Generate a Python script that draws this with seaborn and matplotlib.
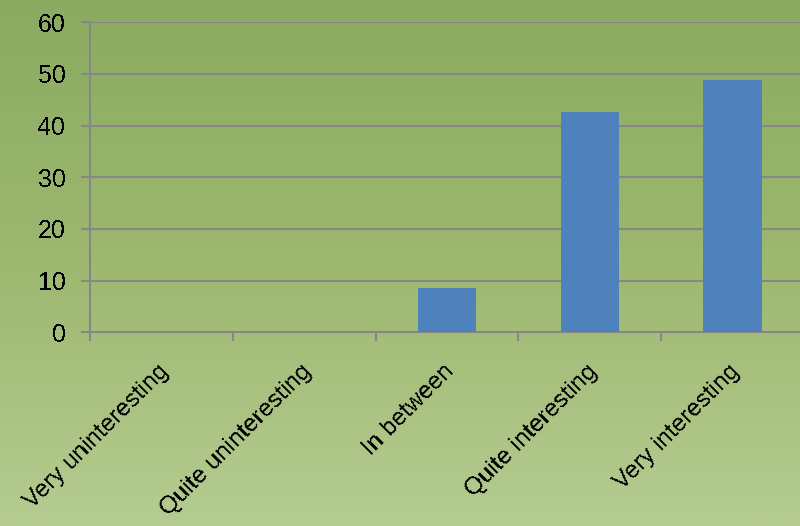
import numpy as np
import pandas as pd
import matplotlib
matplotlib.use("Agg")
import matplotlib.pyplot as plt
import matplotlib.transforms as mtransforms
from matplotlib.colors import LinearSegmentedColormap
import seaborn as sns

categories = ["Very uninteresting", "Quite uninteresting", "In between",
              "Quite interesting", "Very interesting"]
values = [0, 0, 8.5, 42.6, 48.9]
y_ticks = [0, 10, 20, 30, 40, 50, 60]

sns.set_theme(style="white")
plt.rcParams["font.family"] = ["Liberation Sans", "DejaVu Sans"]
plt.rcParams["text.antialiased"] = False

fig = plt.figure(figsize=(8.0, 5.26), dpi=100)

# green vertical gradient behind everything
bg = fig.add_axes([0, 0, 1, 1], zorder=0)
grad = np.linspace(0, 1, 256).reshape(-1, 1)
cmap = LinearSegmentedColormap.from_list("bg", ["#8aab61", "#9db870", "#b5cc91"])
bg.imshow(grad, aspect="auto", cmap=cmap, extent=[0, 1, 0, 1], origin="upper")
bg.axis("off")

ax = fig.add_axes([0.1125, 0.368, 0.8925, 0.59], zorder=1)
ax.patch.set_alpha(0)

df = pd.DataFrame({"category": categories, "value": values})
sns.barplot(data=df, x="category", y="value", color="#4f81bd", saturation=1,
            width=0.41, ax=ax, zorder=3, linewidth=0, edgecolor="none")

ax.set_xlim(-0.5, 4.5)
ax.set_ylim(0, 60)
ax.set_yticks(y_ticks)
ax.set_xlabel("")
ax.set_ylabel("")

grid_color = "#878787"
ax.grid(axis="y", color=grid_color, linewidth=1.5, zorder=1)
ax.set_axisbelow(True)
for s in ["top", "right"]:
    ax.spines[s].set_visible(False)
for s in ["left", "bottom"]:
    ax.spines[s].set_color(grid_color)
    ax.spines[s].set_linewidth(1.5)
    ax.spines[s].set_zorder(2)

ax.tick_params(axis="y", which="major", left=True, length=6.5, width=1.5,
               color=grid_color, labelsize=18, labelcolor="black", pad=11)
ax.tick_params(axis="x", which="major", bottom=False, length=0, labelsize=17.5,
               labelcolor="black", pad=0)
ax.set_xticks(np.arange(-0.5, 5.0, 1.0), minor=True)
ax.tick_params(axis="x", which="minor", bottom=True, length=6.5, width=1.5,
               color=grid_color)

offset = mtransforms.ScaledTranslation(-0.04, -0.28, fig.dpi_scale_trans)
for lbl in ax.get_xticklabels():
    lbl.set_rotation(45)
    lbl.set_ha("right")
    lbl.set_va("top")
    lbl.set_rotation_mode("anchor")
    lbl.set_transform(lbl.get_transform() + offset)

fig.savefig("out.png", dpi=100)
